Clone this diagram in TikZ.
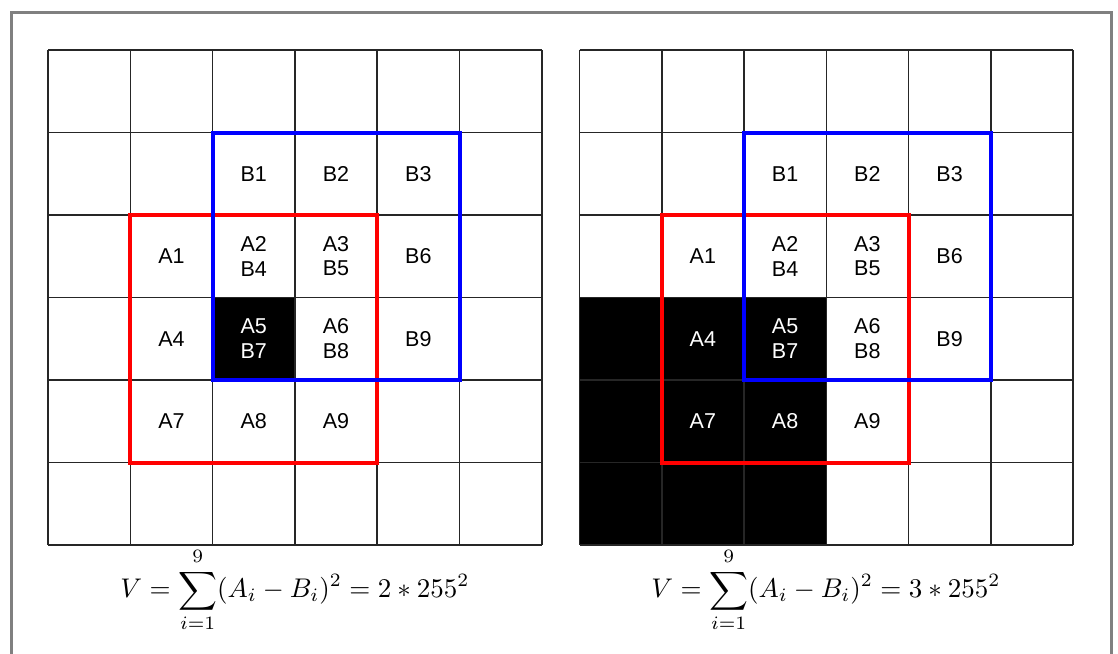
\documentclass[tikz,border=0pt]{standalone}
\usepackage{fontspec}
\setmainfont{Liberation Sans}

\tikzset{
  cell/.style={inner sep=0pt,align=center,font=\fontsize{21.5}{24.5}\selectfont},
  darkcell/.style={cell,text=white},
  gridline/.style={line width=1.5pt,black!85},
  redbox/.style={draw=red,line width=4pt},
  bluebox/.style={draw=blue,line width=4pt},
  formula/.style={inner sep=0pt,scale=2.7}
}

\begin{document}
\begin{tikzpicture}[x=1pt,y=-1pt]
 \useasboundingbox (0,0) rectangle (1118,653);
 \draw[gray,line width=3pt] (11,660) -- (11,12) -- (1111,12) -- (1111,660);

 % left window: one dark pixel
 \begin{scope}[shift={(48,50)},x=82.3pt,y=-82.5pt]
  \fill (2,3) rectangle (3,4);
  \foreach \i in {0,...,6} {
    \draw[gridline] (\i,0) -- (\i,6);
    \draw[gridline] (0,\i) -- (6,\i);
  }
  \draw[redbox] (1,2) rectangle (4,5);
  \draw[bluebox] (2,1) rectangle (5,4);
  \node[cell] (lB1) at (2.5,1.5) {B1};
  \node[cell] (lB2) at (3.5,1.5) {B2};
  \node[cell] (lB3) at (4.5,1.5) {B3};
  \node[cell] (lA1) at (1.5,2.5) {A1};
  \node[cell] (lA2) at (2.5,2.5) {A2\\B4};
  \node[cell] (lA3) at (3.5,2.5) {A3\\B5};
  \node[cell] (lB6) at (4.5,2.5) {B6};
  \node[cell] (lA4) at (1.5,3.5) {A4};
  \node[darkcell] (lA5) at (2.5,3.5) {A5\\B7};
  \node[cell] (lA6) at (3.5,3.5) {A6\\B8};
  \node[cell] (lB9) at (4.5,3.5) {B9};
  \node[cell] (lA7) at (1.5,4.5) {A7};
  \node[cell] (lA8) at (2.5,4.5) {A8};
  \node[cell] (lA9) at (3.5,4.5) {A9};
 \end{scope}

 % right window: dark corner block
 \begin{scope}[shift={(579.5,50)},x=82.25pt,y=-82.5pt]
  \fill (0,3) rectangle (3,6);
  \foreach \i in {0,...,6} {
    \draw[gridline] (\i,0) -- (\i,6);
    \draw[gridline] (0,\i) -- (6,\i);
  }
  \draw[redbox] (1,2) rectangle (4,5);
  \draw[bluebox] (2,1) rectangle (5,4);
  \node[cell] (rB1) at (2.5,1.5) {B1};
  \node[cell] (rB2) at (3.5,1.5) {B2};
  \node[cell] (rB3) at (4.5,1.5) {B3};
  \node[cell] (rA1) at (1.5,2.5) {A1};
  \node[cell] (rA2) at (2.5,2.5) {A2\\B4};
  \node[cell] (rA3) at (3.5,2.5) {A3\\B5};
  \node[cell] (rB6) at (4.5,2.5) {B6};
  \node[darkcell] (rA4) at (1.5,3.5) {A4};
  \node[darkcell] (rA5) at (2.5,3.5) {A5\\B7};
  \node[cell] (rA6) at (3.5,3.5) {A6\\B8};
  \node[cell] (rB9) at (4.5,3.5) {B9};
  \node[darkcell] (rA7) at (1.5,4.5) {A7};
  \node[darkcell] (rA8) at (2.5,4.5) {A8};
  \node[cell] (rA9) at (3.5,4.5) {A9};
 \end{scope}

 \node[formula] (Vleft) at (295,590) {$\displaystyle V=\sum_{i=1}^{\raisebox{0.6pt}{$\scriptstyle 9$}}(A_i-B_i)^2 = 2*255^2$};
 \node[formula] (Vright) at (826,590) {$\displaystyle V=\sum_{i=1}^{\raisebox{0.6pt}{$\scriptstyle 9$}}(A_i-B_i)^2 = 3*255^2$};
\end{tikzpicture}
\end{document}
